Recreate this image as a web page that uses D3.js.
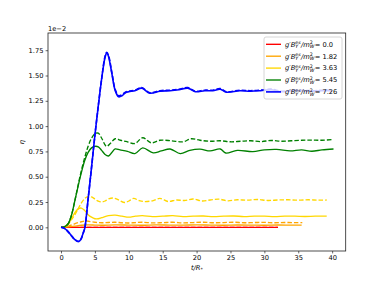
<!DOCTYPE html>
<html>
<head>
<meta charset="utf-8">
<script src="https://cdn.jsdelivr.net/npm/d3@7"></script>
<style>
  body { margin: 0; background: #fff; }
  text { font-family: "DejaVu Sans", sans-serif; fill: #000; }
</style>
</head>
<body>
<script>
"use strict";

/* tick labels */
var xTicks = [0, 5, 10, 15, 20, 25, 30, 35, 40];
var yTicks = [0, 0.25, 0.5, 0.75, 1.0, 1.25, 1.5, 1.75];   /* in units of 1e-2 */

/* legend values g'B/m^2 and their colours */
var couplings = ["0.0", "1.82", "3.63", "5.45", "7.26"];
var colors = ["red", "orange", "gold", "green", "blue"];

/* eta (x 1e-2) against t/R*, solid and dashed for each coupling */
var tRed = [0, 32];
var etaRed = [0, 0];
var etaRedDash = [0, 0];

var tOrange = [0, 1, 2, 3, 4, 5, 6, 8, 10, 12, 14, 16, 18, 20, 22, 24, 26, 28, 30, 32, 34, 35.5];
var etaOrange = [0, 0.004, 0.012, 0.02, 0.024, 0.022, 0.02, 0.024, 0.022, 0.02, 0.024, 0.022, 0.021, 0.024, 0.022, 0.02, 0.023, 0.022, 0.02, 0.023, 0.021, 0.022];
var tOrangeDash = [0, 1, 2, 3, 3.5, 4, 5, 6, 7, 8, 9, 10, 11, 12, 13.5, 15, 16.5, 18, 19.5, 21, 22.5, 24, 25.5, 27, 28.5, 30, 31.5, 33, 34.5, 35.6];
var etaOrangeDash = [0, 0.01, 0.035, 0.055, 0.062, 0.06, 0.05, 0.045, 0.048, 0.05, 0.045, 0.043, 0.047, 0.05, 0.044, 0.046, 0.05, 0.044, 0.047, 0.05, 0.045, 0.047, 0.05, 0.045, 0.047, 0.049, 0.045, 0.048, 0.046, 0.047];

var tYellow = [0, 0.5, 1, 1.5, 2, 2.5, 3, 3.5, 4, 4.5, 5, 5.5, 6, 7, 8, 9, 10, 11, 12, 13.5, 15, 16.5, 18, 19.5, 21, 22.5, 24, 25.5, 27, 28.5, 30, 31.5, 33, 34.5, 36, 37.5, 39.2];
var etaYellow = [0, 0.005, 0.03, 0.08, 0.14, 0.18, 0.19, 0.165, 0.125, 0.1, 0.085, 0.085, 0.095, 0.115, 0.12, 0.11, 0.10, 0.11, 0.115, 0.105, 0.11, 0.115, 0.105, 0.11, 0.112, 0.105, 0.11, 0.112, 0.106, 0.11, 0.11, 0.106, 0.11, 0.11, 0.107, 0.11, 0.11];
var tYellowDash = [0, 0.5, 1, 1.5, 2, 2.5, 3, 3.5, 4, 4.5, 5, 5.5, 6, 6.5, 7, 7.7, 8.5, 9.4, 10, 10.7, 11.5, 12.2, 13.5, 14.6, 15.8, 17, 18.2, 19.5, 20.8, 22, 23.3, 24.6, 26, 27.5, 29, 30.5, 32, 33.5, 35, 36.5, 38, 39.2];
var etaYellowDash = [0, 0.005, 0.03, 0.07, 0.12, 0.18, 0.24, 0.285, 0.305, 0.3, 0.28, 0.258, 0.25, 0.26, 0.28, 0.29, 0.27, 0.245, 0.26, 0.286, 0.265, 0.255, 0.262, 0.286, 0.255, 0.27, 0.265, 0.28, 0.26, 0.27, 0.278, 0.262, 0.272, 0.268, 0.275, 0.265, 0.27, 0.272, 0.268, 0.272, 0.268, 0.27];

var tGreen = [0, 0.5, 1, 1.5, 2, 2.5, 3, 3.5, 4, 4.5, 5, 5.5, 6, 6.5, 7, 7.5, 8, 8.7, 9.8, 10.9, 12.05, 13.6, 14.8, 16.1, 17.6, 19, 20.5, 22, 23.5, 24.3, 26, 28.3, 30, 31.8, 33.8, 35.5, 37, 38.5, 40.2];
var etaGreen = [0, 0.005, 0.03, 0.11, 0.25, 0.4, 0.54, 0.66, 0.74, 0.785, 0.8, 0.795, 0.76, 0.72, 0.705, 0.74, 0.775, 0.765, 0.75, 0.728, 0.785, 0.736, 0.755, 0.774, 0.728, 0.76, 0.772, 0.755, 0.774, 0.734, 0.76, 0.748, 0.765, 0.77, 0.755, 0.765, 0.752, 0.765, 0.774];
var tGreenDash = [0, 0.5, 1, 1.5, 2, 2.5, 3, 3.5, 4, 4.5, 5, 5.5, 6, 6.7, 7.3, 8, 8.8, 9.8, 10.9, 12.05, 13.3, 14.6, 16.3, 18, 19.2, 20.5, 22, 23.5, 25, 26.5, 28, 29.5, 31, 32.5, 34, 35.5, 37, 38.5, 40.2];
var etaGreenDash = [0, 0.005, 0.03, 0.11, 0.25, 0.41, 0.56, 0.69, 0.8, 0.88, 0.925, 0.93, 0.88, 0.80, 0.83, 0.875, 0.86, 0.845, 0.828, 0.885, 0.835, 0.86, 0.855, 0.845, 0.875, 0.86, 0.85, 0.855, 0.845, 0.85, 0.855, 0.847, 0.858, 0.85, 0.855, 0.86, 0.862, 0.86, 0.868];

var tBlue = [0, 0.5, 1, 1.5, 2, 2.5, 2.75, 3, 3.25, 3.5, 4, 4.5, 5, 5.5, 6, 6.5, 6.75, 7, 7.5, 8, 8.5, 9, 9.5, 10, 10.9, 11.9, 13.1, 14.6, 16.1, 17.4, 18.7, 19.8, 21.2, 22.4, 23.5, 24.4, 26.4, 27.9, 29.4, 31, 32.5, 34, 35.5, 37, 38.5, 40];
var etaBlue = [0, -0.01, -0.04, -0.08, -0.12, -0.14, -0.135, -0.11, -0.06, -0.01, 0.28, 0.59, 0.91, 1.2, 1.47, 1.68, 1.725, 1.69, 1.52, 1.35, 1.29, 1.3, 1.33, 1.34, 1.35, 1.375, 1.325, 1.345, 1.35, 1.36, 1.375, 1.34, 1.35, 1.35, 1.365, 1.335, 1.35, 1.345, 1.35, 1.36, 1.34, 1.35, 1.35, 1.345, 1.35, 1.35];
var etaBlueDash = [0, -0.01, -0.04, -0.08, -0.12, -0.14, -0.135, -0.11, -0.06, -0.01, 0.28, 0.59, 0.91, 1.2, 1.47, 1.69, 1.73, 1.7, 1.53, 1.36, 1.3, 1.31, 1.335, 1.345, 1.355, 1.38, 1.33, 1.35, 1.355, 1.365, 1.38, 1.345, 1.355, 1.355, 1.37, 1.34, 1.355, 1.35, 1.355, 1.365, 1.345, 1.355, 1.355, 1.35, 1.355, 1.355];

var series = [
  { t: tRed, v: etaRed, c: 0, dash: false },
  { t: tRed, v: etaRedDash, c: 0, dash: true },
  { t: tOrange, v: etaOrange, c: 1, dash: false },
  { t: tOrangeDash, v: etaOrangeDash, c: 1, dash: true },
  { t: tYellow, v: etaYellow, c: 2, dash: false },
  { t: tYellowDash, v: etaYellowDash, c: 2, dash: true },
  { t: tGreen, v: etaGreen, c: 3, dash: false },
  { t: tGreenDash, v: etaGreenDash, c: 3, dash: true },
  { t: tBlue, v: etaBlue, c: 4, dash: false },
  { t: tBlue, v: etaBlueDash, c: 4, dash: true }
];

/* plot frame */
var W = 384, H = 288;
var mLeft = 48, mRight = 345.7, mTop = 33, mBottom = 251;
var fs = 6.7;

var svg = d3.select("body")
  .append("svg")
    .attr("width", W)
    .attr("height", H);

var x = d3.scaleLinear().domain([-1.92, 42.0]).range([mLeft, mRight]);
var y = d3.scaleLinear().domain([-0.234, 1.92]).range([mBottom, mTop]);

/* lines, clipped to the axes */
svg.append("clipPath").attr("id", "clip")
  .append("rect")
    .attr("x", mLeft).attr("y", mTop)
    .attr("width", mRight - mLeft).attr("height", mBottom - mTop);

var line = d3.line()
  .x(function (d) { return x(d[0]); })
  .y(function (d) { return y(d[1]); })
  .curve(d3.curveCatmullRom.alpha(0.5));

svg.append("g")
    .attr("clip-path", "url(#clip)")
  .selectAll("path")
  .data(series)
  .enter()
  .append("path")
    .attr("d", function (s) { return line(s.t.map(function (t, i) { return [t, s.v[i]]; })); })
    .attr("fill", "none")
    .attr("stroke", function (s) { return colors[s.c]; })
    .attr("stroke-width", function (s) { return s.c === 4 ? 1.6 : 1.35; })
    .attr("stroke-dasharray", function (s) { return s.dash ? "4.5,2" : null; });

/* axes */
var xAxis = svg.append("g")
    .attr("transform", "translate(0," + mBottom + ")")
    .call(d3.axisBottom(x).tickValues(xTicks).tickSize(2.4).tickPadding(2.2)
      .tickFormat(d3.format("d")));
var yAxis = svg.append("g")
    .attr("transform", "translate(" + mLeft + ",0)")
    .call(d3.axisLeft(y).tickValues(yTicks).tickSize(2.4).tickPadding(2.2)
      .tickFormat(d3.format(".2f")));

[xAxis, yAxis].forEach(function (a) {
  a.select(".domain").remove();
  a.selectAll("line").attr("stroke", "#000").attr("stroke-width", 0.6);
  a.selectAll("text").style("font-size", fs + "px").style("font-family", "DejaVu Sans");
});

svg.append("rect")
    .attr("x", mLeft).attr("y", mTop)
    .attr("width", mRight - mLeft).attr("height", mBottom - mTop)
    .attr("fill", "none")
    .attr("stroke", "#222")
    .attr("stroke-width", 0.8);

/* offset text */
svg.append("text")
    .attr("x", mLeft).attr("y", 31)
    .style("font-size", fs + "px")
    .text("1e\u22122");

/* axis labels */
var xl = svg.append("text")
    .attr("x", (mLeft + mRight) / 2).attr("y", 270)
    .attr("text-anchor", "middle")
    .style("font-size", fs + "px");
xl.append("tspan").style("font-style", "italic").text("t/R");
xl.append("tspan").attr("dy", 1.3).style("font-size", (fs * 0.7) + "px").text("*");

svg.append("text")
    .attr("transform", "translate(24," + ((mTop + mBottom) / 2) + ") rotate(-90)")
    .attr("text-anchor", "middle")
    .style("font-size", fs + "px")
    .style("font-style", "italic")
    .text("\u03b7");

/* legend */
var lg = svg.append("g");
lg.append("rect")
    .attr("x", 264).attr("y", 37)
    .attr("width", 78).attr("height", 62)
    .attr("rx", 2)
    .attr("fill", "#fff").attr("fill-opacity", 0.8)
    .attr("stroke", "#ccc").attr("stroke-width", 0.8);

/* write "g'B_Y^es/m_W^2 = v" piece by piece, measuring each piece */
function mathLabel(g, x0, yb, val) {
  var cx = x0;
  var small = fs * 0.7;
  function piece(str, size, dy, italic) {
    var t = g.append("text")
        .attr("x", cx).attr("y", yb + dy)
        .style("font-size", size + "px")
        .style("font-style", italic ? "italic" : "normal")
        .text(str);
    return t.node().getComputedTextLength();
  }
  cx += piece("g\u2032B", fs, 0, true);
  var w1 = piece("es", small, -2.6, true);
  var w2 = piece("Y", small, 1.4, true);
  cx += Math.max(w1, w2) + 0.3;
  cx += piece("/m", fs, 0, true);
  w1 = piece("2", small, -2.6, false);
  w2 = piece("W", small, 1.4, true);
  cx += Math.max(w1, w2) + 0.3;
  piece(" = " + val, fs, 0, false);
}

couplings.forEach(function (v, i) {
  var yy = 44.3 + i * 11.9;
  lg.append("line")
      .attr("x1", 266).attr("x2", 281)
      .attr("y1", yy).attr("y2", yy)
      .attr("stroke", colors[i])
      .attr("stroke-width", i === 4 ? 1.6 : 1.35);
  mathLabel(lg, 285, yy + 2.3, v);
});
</script>
</body>
</html>
